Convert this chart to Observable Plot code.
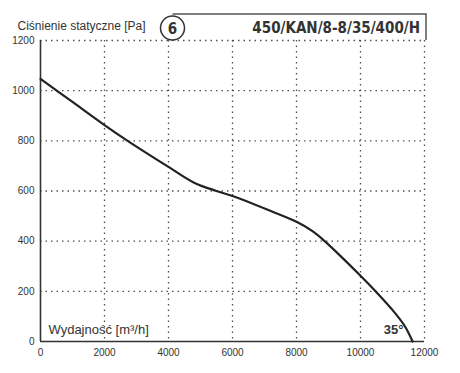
<!DOCTYPE html>
<html>
<head>
<meta charset="utf-8">
<script src="https://cdn.jsdelivr.net/npm/d3@7"></script>
<script src="https://cdn.jsdelivr.net/npm/@observablehq/plot@0.6"></script>
<style>
  html, body { margin: 0; padding: 0; background: #fff; }
</style>
</head>
<body>
<div id="chart"></div>
<script>
// Data
const flow = [0, 1000, 2000, 2723, 4000, 4800, 5500, 6000, 7200, 8000, 8500, 8880, 10000, 10470, 11100, 11400, 11630];
const pressure = [1047, 955, 863, 800, 696, 633, 600, 580, 520, 477, 440, 400, 262, 200, 110, 58, 0];
const xTicks = [0, 2000, 4000, 6000, 8000, 10000, 12000];
const yTicks = [0, 200, 400, 600, 800, 1000, 1200];
const yTitle = "Ciśnienie statyczne [Pa]";
const xTitle = "Wydajność [m³/h]";
const model = "450/KAN/8-8/35/400/H";
const badge = "6";
const angle = "35°";

(function () {
const curve = flow.map((f, i) => ({flow: f, pressure: pressure[i]}));

const plot = Plot.plot({
  width: 460,
  height: 373,
  marginLeft: 40,
  marginRight: 36,
  marginTop: 40,
  marginBottom: 32,
  style: {fontFamily: "Liberation Sans, Arial, sans-serif", fontSize: "10px", color: "#333", background: "#fff"},
  x: {domain: [0, 12000]},
  y: {domain: [0, 1200]},
  marks: [
    Plot.gridX(xTicks.slice(1), {stroke: "#333", strokeOpacity: 0.85, strokeDasharray: "1.5,4", strokeWidth: 1.3}),
    Plot.gridY(yTicks.slice(1), {stroke: "#333", strokeOpacity: 0.85, strokeDasharray: "1.5,4", strokeWidth: 1.3}),
    Plot.axisX(xTicks, {tickSize: 0, tickPadding: 7, tickFormat: d => String(d), fontSize: 10, fill: "#333", label: null}),
    Plot.axisY(yTicks, {tickSize: 0, tickPadding: 6, tickFormat: d => String(d), fontSize: 10, fill: "#333", label: null}),
    Plot.ruleX([0], {stroke: "#333", strokeWidth: 1.6}),
    Plot.ruleY([0], {stroke: "#333", strokeWidth: 1.6}),
    Plot.line(curve, {x: "flow", y: "pressure", stroke: "#222", strokeWidth: 2.2, curve: "catmull-rom"}),
    Plot.text([xTitle], {frameAnchor: "bottom-left", dx: 8, dy: -8, fontSize: 13, fill: "#333", textAnchor: "start", lineAnchor: "bottom"}),
    Plot.text([angle], {frameAnchor: "bottom-right", dx: -21, dy: -8, fontSize: 13, fontWeight: "bold", fill: "#333", textAnchor: "end", lineAnchor: "bottom"}),
    Plot.text([yTitle], {frameAnchor: "top-left", dx: -23, dy: -11, fontSize: 12, fill: "#333", textAnchor: "start", lineAnchor: "bottom"})
  ]
});

const svg = d3.select(plot);
const xs = plot.scale("x");
const ys = plot.scale("y");
const topY = ys.apply(1200);
const rightX = xs.apply(12000) + 2;
const cx = 172.5, cy = 28, r = 12;
const boxTop = 14;
const g = svg.append("g");
g.append("path")
  .attr("d", `M${cx},${boxTop}H${rightX}V${topY}`)
  .attr("fill", "none").attr("stroke", "#555").attr("stroke-width", 1.5);
g.append("circle")
  .attr("cx", cx).attr("cy", cy).attr("r", r)
  .attr("fill", "#fff").attr("stroke", "#333").attr("stroke-width", 1.5);
g.append("text")
  .attr("x", cx).attr("y", cy + 5.5)
  .attr("text-anchor", "middle")
  .attr("font-family", "DejaVu Sans Condensed, DejaVu Sans, sans-serif")
  .attr("font-weight", "bold").attr("font-size", 15).attr("fill", "#333")
  .text(badge);
g.append("text")
  .attr("x", rightX - 6).attr("y", 33)
  .attr("text-anchor", "end")
  .attr("font-family", "DejaVu Sans Condensed, DejaVu Sans, sans-serif")
  .attr("font-weight", "bold").attr("font-size", 15).attr("fill", "#333")
  .text(model);

document.getElementById("chart").appendChild(plot);
})();
</script>
</body>
</html>
